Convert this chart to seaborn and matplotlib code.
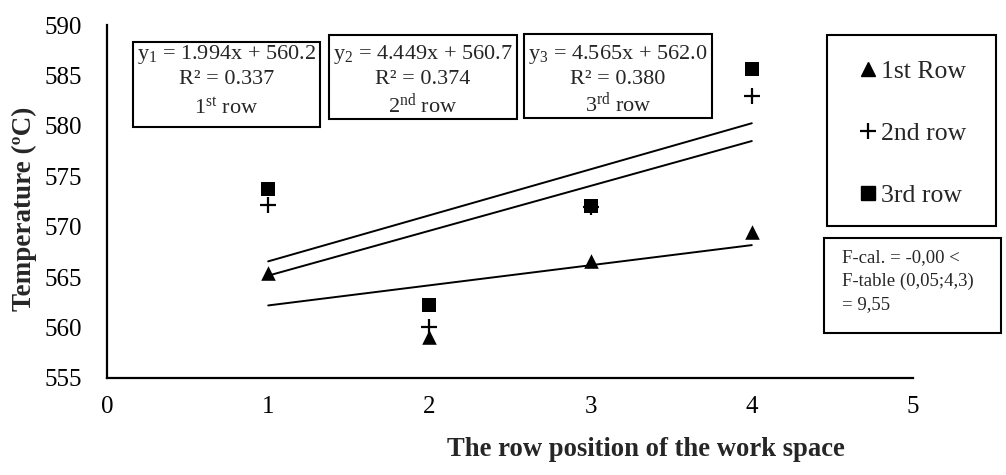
import matplotlib
matplotlib.use("Agg")
import matplotlib.pyplot as plt
from matplotlib.patches import Rectangle
from matplotlib.lines import Line2D
import numpy as np
import pandas as pd
import seaborn as sns

# Row positions and measured temperatures (°C)
positions = [1, 2, 3, 4]
row1_temp = [565.4, 559.1, 566.6, 569.5]
row2_temp = [572.2, 560.1, 572.0, 583.0]
row3_temp = [573.7, 562.2, 572.1, 585.6]

series_names = ["1st Row", "2nd row", "3rd row"]

# Linear trend coefficients (slope, intercept) and R² per row
slopes = [1.994, 4.449, 4.565]
intercepts = [560.2, 560.7, 562.0]
r_squared = [0.337, 0.374, 0.380]
ordinals = ["1$^{\\mathregular{st}}$ row", "2$^{\\mathregular{nd}}$ row", "3$^{\\mathregular{rd}}$ row"]

x_ticks = [0, 1, 2, 3, 4, 5]
y_ticks = [555, 560, 565, 570, 575, 580, 585, 590]

sns.set_theme(style="white")
plt.rcParams["font.family"] = ["Liberation Serif", "DejaVu Serif"]
plt.rcParams["mathtext.fontset"] = "custom"
plt.rcParams["mathtext.rm"] = "Liberation Serif"
plt.rcParams["mathtext.it"] = "Liberation Serif:italic"
plt.rcParams["mathtext.bf"] = "Liberation Serif:bold"

W, H = 1006, 475
fig = plt.figure(figsize=(W / 100, H / 100), dpi=100)
ax = fig.add_axes([107 / W, 1 - 378 / H, (913 - 107) / W, (378 - 25) / H])

df = pd.DataFrame({
    "pos": positions * 3,
    "temp": row1_temp + row2_temp + row3_temp,
    "row": np.repeat(series_names, len(positions)),
})

markers = {"1st Row": "^", "2nd row": "+", "3rd row": "s"}
sizes = {"1st Row": 110, "2nd row": 130, "3rd row": 100}

# Trend lines from the fitted equations, drawn between the first and last positions
x_fit = np.array([positions[0], positions[-1]], dtype=float)
for m, b in zip(slopes, intercepts):
    sns.lineplot(x=x_fit, y=m * x_fit + b, ax=ax, color="black", linewidth=1.4)

for name in series_names:
    sub = df[df["row"] == name]
    if markers[name] == "+":
        sns.scatterplot(data=sub, x="pos", y="temp", ax=ax, marker="+",
                        color="black", s=sizes[name], linewidth=1.6, zorder=3)
    else:
        sns.scatterplot(data=sub, x="pos", y="temp", ax=ax, marker=markers[name],
                        color="black", s=sizes[name], edgecolor="black",
                        linewidth=0, zorder=3)

ax.set_xlim(0, 5)
ax.set_ylim(555, 590)
ax.set_xticks(x_ticks)
ax.set_yticks(y_ticks)
ax.set_xlabel("")
ax.set_ylabel("")
for side in ["top", "right"]:
    ax.spines[side].set_visible(False)
for side in ["left", "bottom"]:
    ax.spines[side].set_color("black")
    ax.spines[side].set_linewidth(1.6)
ax.tick_params(axis="both", which="major", direction="out", length=5,
               width=1.6, color="black", labelsize=18, labelcolor="black")
ax.tick_params(axis="y", pad=13)
ax.tick_params(axis="x", pad=8)

# Axis titles
fig.text(24 / W, 1 - 209 / H, "Temperature (ºC)", rotation=90, ha="center",
         va="center", fontsize=19.5, fontweight="bold")
fig.text(646 / W, 1 - 449 / H, "The row position of the work space",
         ha="center", va="center", fontsize=19.2, fontweight="bold")


def fig_box(x0, y0, x1, y1):
    rect = Rectangle((x0 / W, 1 - y1 / H), (x1 - x0) / W, (y1 - y0) / H,
                     transform=fig.transFigure, facecolor="white",
                     edgecolor="black", linewidth=1.5, zorder=5)
    fig.add_artist(rect)


# Equation boxes
eq_boxes = [(133, 42, 320, 127), (329, 35, 517, 119), (524, 34, 712, 118)]
eq_line_y = [(55, 80, 108), (55, 80, 105), (54, 79, 104)]
for i, ((x0, y0, x1, y1), ly) in enumerate(zip(eq_boxes, eq_line_y)):
    fig_box(x0, y0, x1, y1)
    cx = (x0 + x1) / 2 / W
    lines = [
        f"y$_{{\\mathregular{{{i + 1}}}}}$ = {slopes[i]:.3f}x + {intercepts[i]:.1f}",
        f"R² = {r_squared[i]:.3f}",
        ordinals[i],
    ]
    for txt, yy in zip(lines, ly):
        fig.text(cx, 1 - yy / H, txt, ha="center", va="center", fontsize=16,
                 zorder=6)

# Legend box
fig_box(827, 35, 996, 226)
handles = [
    Line2D([], [], linestyle="none", marker="^", color="black", markersize=10),
    Line2D([], [], linestyle="none", marker="+", color="black", markersize=12,
           markeredgewidth=1.6),
    Line2D([], [], linestyle="none", marker="s", color="black", markersize=9.5),
]
leg = fig.legend(handles, series_names, loc="upper left",
                 bbox_to_anchor=(846 / W, 1 - 47 / H), frameon=False,
                 fontsize=18.5, labelspacing=1.53, handlelength=0.7,
                 handletextpad=0.15, borderpad=0)
leg.set_zorder(7)

# F-test box
fig_box(824, 238, 1001, 333)
fig.text(842 / W, 1 - 249 / H, "F-cal. = -0,00 <\nF-table (0,05;4,3)\n= 9,55",
         ha="left", va="top", fontsize=13.5, linespacing=1.5, zorder=6)

fig.savefig("out.png", dpi=100)
